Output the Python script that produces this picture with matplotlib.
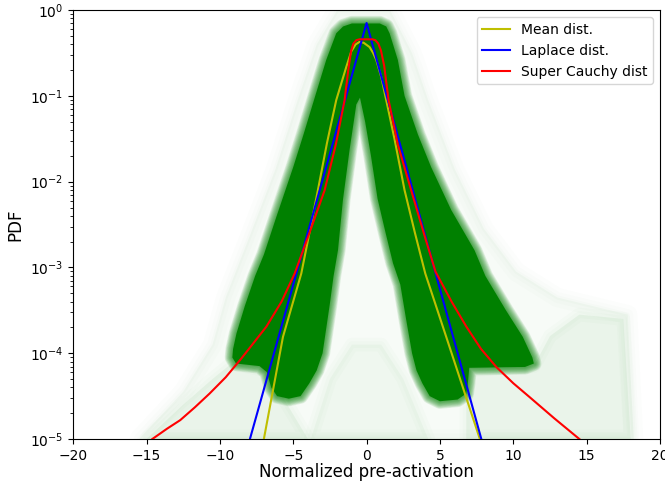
import numpy as np
import matplotlib
matplotlib.use("Agg")
import matplotlib.pyplot as plt

# ---- data (x, log10(pdf)) ----
# dense green cloud outline (single polygon, inverted-V shape)
cloud_x = [-4.5, -5.3, -6.1, -6.5, -6.8, -7.3, -8.9, -9.15, -9.1, -8.87, -8.3, -7.6, -7.0,
           -6.15, -5.0, -4.3, -3.5, -2.75, -2.07, -1.6, -1.0, 0.9, 1.34, 1.57, 2.13, 2.59,
           3.5, 4.4, 5.77, 7.36, 8.1, 9.5, 10.65, 11.3, 11.4, 10.8, 7.0, 6.9, 6.8, 6.2, 5.0,
           4.3, 3.8, 3.4, 3.1, 2.7, 2.3, 1.8, 1.3, 0.75, 0.3, -0.1, -0.45,
           -0.7, -1.16, -1.61, -1.95, -2.25, -2.5, -3.0, -3.4, -3.9]
cloud_log = [-4.5, -4.53, -4.5, -4.4, -4.22, -4.15, -4.12, -4.05, -3.95, -3.77, -3.45, -3.1, -2.85,
             -2.41, -1.83, -1.45, -1.0, -0.58, -0.27, -0.19, -0.155, -0.155, -0.19, -0.27, -0.58, -1.0,
             -1.45, -1.83, -2.33, -2.8, -3.1, -3.5, -3.81, -4.05, -4.12, -4.16, -4.17, -4.35, -4.47, -4.54, -4.56,
             -4.5, -4.35, -4.2, -4.0, -3.61, -3.2, -2.95, -2.6, -2.2, -1.7, -1.3, -1.02,
             -1.1, -1.63, -2.21, -2.8, -3.1, -3.42, -4.0, -4.2, -4.35]

# faint halo around the cloud
halo_x = [-15.5, -12.5, -10.5, -9.6, -8.0, -6.2, -4.7, -3.4, -2.0, 1.6, 3.1, 4.2, 6.0, 8.0,
          10.2, 13.0, 17.8, 18.2]
halo_log = [-5.0, -4.45, -3.9, -3.35, -2.65, -1.85, -1.05, -0.4, 0.0, 0.0, -0.5, -1.05, -1.85, -2.55,
            -3.05, -3.35, -3.55, -5.0]

# lighter streaky fringes below / beside the dense cloud
fringe_r_x = [6.8, 11.4, 12.5, 14.5, 17.5, 18.0, 6.8]
fringe_r_log = [-4.2, -4.15, -3.8, -3.55, -3.6, -5.0, -5.0]
fringe_l_x = [-6.8, -9.2, -10.5, -12.5, -15.0, -4.0]
fringe_l_log = [-4.2, -4.12, -4.3, -4.6, -5.0, -5.0]
fringe_c_x = [-3.8, -2.5, -1.0, 1.0, 2.5, 4.2]
fringe_c_log = [-5.0, -4.3, -3.9, -3.9, -4.3, -5.0]

# fitted curves
mean_x = [-7.0, -5.7, -4.45, -3.9, -3.32, -2.7, -2.07, -1.7, -1.38, -1.04, -0.75, -0.48,
          -0.2, 0.2, 0.45, 0.66, 1.0, 1.34, 1.9, 2.59, 3.3, 4.0, 5.43, 7.72]
mean_log = [-5.0, -3.81, -3.07, -2.6, -2.1, -1.55, -1.05, -0.84, -0.66, -0.48, -0.4, -0.37,
            -0.38, -0.43, -0.5, -0.58, -0.78, -1.05, -1.5, -2.1, -2.6, -3.07, -3.81, -5.0]

laplace_x = [-7.95, 0.0, 7.82]
laplace_log = [-5.0, -0.15, -5.0]

cauchy_x = [-14.6, -13.6, -12.7, -11.7, -10.7, -9.6, -8.53, -7.7, -6.83, -5.8, -4.9, -3.9,
            -2.86, -2.1, -1.5, -1.25, -1.05, -0.9, -0.7, -0.48,
            0.4, 0.6, 0.8, 0.98, 1.2, 1.5, 2.13, 3.04, 3.9, 4.7, 5.8, 6.8, 7.8, 8.84, 10.0,
            11.1, 12.8, 14.5]
cauchy_log = [-5.0, -4.88, -4.78, -4.63, -4.47, -4.28, -4.06, -3.88, -3.69, -3.4, -3.07, -2.6,
              -2.1, -1.57, -1.05, -0.7, -0.47, -0.39, -0.35, -0.34,
              -0.34, -0.35, -0.39, -0.47, -0.65, -1.05, -1.57, -2.1, -2.6, -3.05, -3.4, -3.69,
              -3.95, -4.16, -4.35, -4.51, -4.76, -5.0]

x_ticks = [-20, -15, -10, -5, 0, 5, 10, 15, 20]


def to_pdf(v):
    return [10.0 ** t for t in v]


fig = plt.figure(figsize=(6.65, 4.84), dpi=100)
ax = fig.add_axes([0.11, 0.093, 0.8825, 0.886])

green = "#008000"
# faint halo (soft)
for lw, a in [(14, 0.01), (8, 0.012), (3, 0.015)]:
    ax.fill(halo_x, to_pdf(halo_log), facecolor="none", edgecolor=green, lw=lw,
            alpha=a, joinstyle="round", zorder=1)
ax.fill(halo_x, to_pdf(halo_log), color=green, alpha=0.03, lw=0, zorder=1)
for fx, fl, a in [(fringe_r_x, fringe_r_log, 0.05), (fringe_l_x, fringe_l_log, 0.05),
                  (fringe_c_x, fringe_c_log, 0.03)]:
    for lw in (10, 5):
        ax.fill(fx, to_pdf(fl), facecolor="none", edgecolor=green, lw=lw, alpha=0.015,
                joinstyle="round", zorder=1)
    ax.fill(fx, to_pdf(fl), color=green, alpha=a, lw=0, zorder=1)
# blurred edges of the dense cloud
for lw in range(11, 0, -1):
    ax.fill(cloud_x, to_pdf(cloud_log), facecolor="none", edgecolor=green, lw=lw,
            alpha=0.09, joinstyle="round", zorder=2)
ax.fill(cloud_x, to_pdf(cloud_log), color=green, lw=0, zorder=3)

ax.plot(mean_x, to_pdf(mean_log), color="y", lw=1.5, label="Mean dist.", zorder=5)
ax.plot(laplace_x, to_pdf(laplace_log), color="b", lw=1.5, label="Laplace dist.", zorder=5)
ax.plot(cauchy_x, to_pdf(cauchy_log), color="r", lw=1.5, label="Super Cauchy dist", zorder=5)

ax.set_yscale("log")
ax.set_xlim(-20, 20)
ax.set_ylim(1e-5, 1e0)
ax.set_xticks(x_ticks)
ax.tick_params(labelsize=10)
ax.set_xlabel("Normalized pre-activation", fontsize=12, labelpad=0)
ax.set_ylabel("PDF", fontsize=12)
ax.legend(loc="upper right", fontsize=10)

fig.savefig("out.png", dpi=100)
